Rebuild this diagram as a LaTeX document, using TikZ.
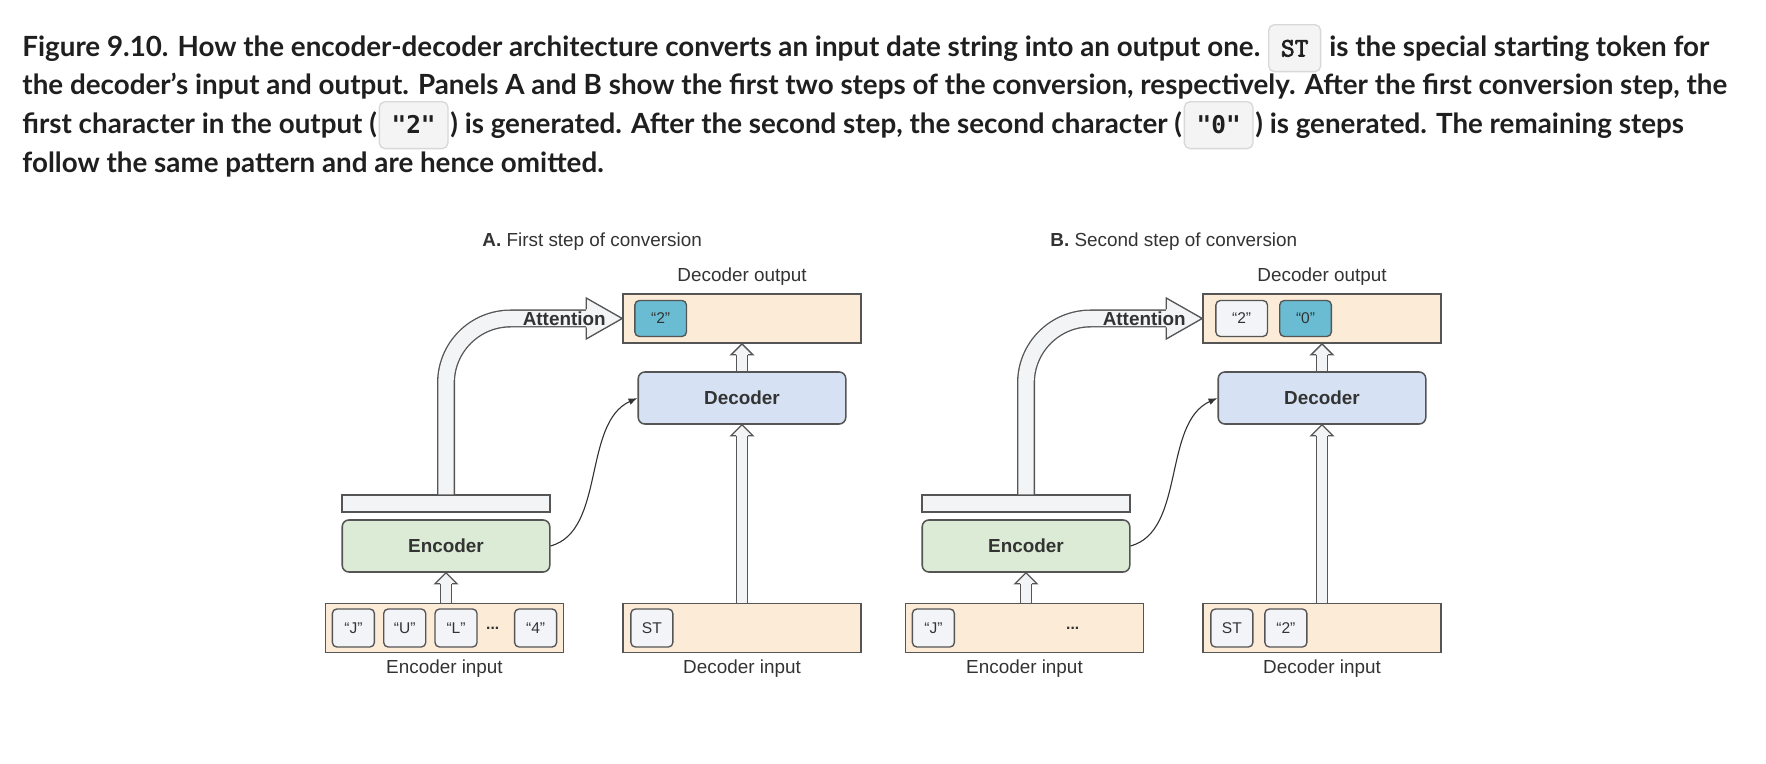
\documentclass[tikz,border=0pt]{standalone}
\usepackage{fontspec}
\setmainfont{Liberation Sans}
\newfontfamily\capfont{Lato}
\newfontfamily\chipmono{DejaVu Sans Mono}
\newfontfamily\stfont[FakeBold=2.5]{Latin Modern Mono}
\usetikzlibrary{positioning,calc,arrows.meta}

\definecolor{edge}{HTML}{555555}
\definecolor{ink}{HTML}{333333}
\definecolor{capink}{HTML}{1F1F1F}
\definecolor{beige}{HTML}{FBEBD7}
\definecolor{encfill}{HTML}{DCEBD5}
\definecolor{decfill}{HTML}{D6E2F3}
\definecolor{chipfill}{HTML}{F2F4F7}
\definecolor{hotfill}{HTML}{69BCD2}
\definecolor{arrfill}{HTML}{F3F4F6}
\definecolor{chipbg}{HTML}{F4F4F4}
\definecolor{chipline}{HTML}{D8D8D8}

\tikzset{
  box/.style={draw=edge, line width=0.7pt, fill=beige, minimum width=107.1pt, minimum height=22.1pt, inner sep=0pt},
  blk/.style={draw=edge, line width=0.7pt, rounded corners=3pt, minimum width=93.4pt, minimum height=23.4pt, inner sep=0pt, font=\fontsize{8.5}{10}\selectfont\bfseries, text=ink},
  enc/.style={blk, fill=encfill},
  dec/.style={blk, fill=decfill},
  bar/.style={draw=edge, line width=0.7pt, fill=arrfill, minimum width=93.6pt, minimum height=7.6pt, inner sep=0pt},
  chip/.style={draw=edge, line width=0.6pt, fill=chipfill, rounded corners=2pt, minimum width=18.9pt, minimum height=17.1pt, inner sep=0pt, font=\fontsize{7}{8}\selectfont, text=ink},
  wchip/.style={chip, minimum width=23.2pt, minimum height=16.2pt},
  hot/.style={wchip, fill=hotfill},
  lbl/.style={font=\fontsize{8.5}{10}\selectfont, text=ink, inner sep=0pt},
  ttl/.style={lbl, anchor=west},
  dots/.style={lbl, font=\fontsize{7}{8}\selectfont\bfseries},
  att/.style={lbl, font=\fontsize{8.5}{10}\selectfont\bfseries},
  link/.style={draw=ink, line width=0.5pt, -{Latex[length=4pt,width=3pt]}},
  edgeline/.style={draw=edge, line width=0.6pt},
  fatshaft/.style={draw=edge, line width=0.6pt, double=arrfill, double distance=4.2pt},
  attshaft/.style={draw=edge, line width=0.6pt, double=arrfill, double distance=6.9pt, rounded corners=29pt},
  captxt/.style={anchor=base west, inner sep=0pt, font=\capfont\bfseries\fontsize{12.5}{16}\selectfont, text=capink},
  capchip/.style={draw=chipline, fill=chipbg, line width=0.6pt, rounded corners=2.5pt, inner xsep=5.5pt, inner ysep=5pt, text height=9.3pt, text depth=1.8pt, font=\chipmono\bfseries\fontsize{11}{13}\selectfont, text=capink},
}

% hollow arrow pointing up: tail, tip
\newcommand\fatup[2]{%
  \draw[fatshaft] (#1) -- ($(#2)+(0,11)$);
  \fill[arrfill] (#2) -- ++(11,11) -- ++(-22,0) -- cycle;
  \draw[edgeline] ($(#2)+(6,11)$) -- ++(5,0) -- (#2) -- ++(-11,11) -- ++(5,0);
}
% attention arrow: from bar up and over to output box
\newcommand\attn[2]{%
  \draw[attshaft] (#1.north) |- ($(#2.west)+(-36,0)$);
  \fill[arrfill] (#2.west) -- ++(-36,-20.5) -- ++(0,41) -- cycle;
  \draw[edgeline] ($(#2.west)+(-36,-9)$) -- ++(0,-11.5) -- (#2.west) -- ++(-36,20.5) -- ++(0,-11.5);
}

\begin{document}
\begin{tikzpicture}[x=0.45pt,y=-0.45pt]
\path[use as bounding box, fill=white] (0,0) rectangle (1766,764);

% caption
\node[captxt] (c1a) at (22,56.5) {Figure 9.10. How the encoder-decoder architecture converts an input date string into an output one.};
\node[capchip, base right=3.4pt of c1a] (stc) {\stfont\fontsize{12}{13}\selectfont ST};
\node[captxt, base right=3.4pt of stc] (c1b) {is the special starting token for};
\node[captxt] (c2) at (22,94.5) {the decoder’s input and output. Panels A and B show the first two steps of the conversion, respectively. After the first conversion step, the};
\node[captxt] (c3a) at (22,133.5) {first character in the output (};
\node[capchip, base right=0.6pt of c3a] (twoc) {"2"};
\node[captxt, base right=0.6pt of twoc] (c3b) {) is generated. After the second step, the second character (};
\node[capchip, base right=0.6pt of c3b] (zeroc) {"0"};
\node[captxt, base right=0.6pt of zeroc] (c3c) {) is generated. The remaining steps};
\node[captxt] (c4) at (22,173) {follow the same pattern and are hence omitted.};

% panel A
\node[ttl] (ttlA) at (482,242) {\textbf{A.} First step of conversion};
\node[box] (inA) at (444.5,628) {};
\node[chip, anchor=west] (jA) at ($(inA.west)+(7,0)$) {“J”};
\node[chip, right=3.6pt of jA] (uA) {“U”};
\node[chip, right=3.6pt of uA] (lA) {“L”};
\node[chip, anchor=east] (fourA) at ($(inA.east)+(-7,0)$) {“4”};
\node[dots] (dotsA) at ($(inA.west)+(168,0)$) {...};
\node[lbl] (inlblA) at (444.5,669) {Encoder input};
\node[enc] (encA) at (446,546) {Encoder};
\node[bar] (barA) at (446,503.5) {};
\node[box] (dinA) at (742,628) {};
\node[chip, anchor=west] (stA) at ($(dinA.west)+(8,0)$) {ST};
\node[lbl] (dinlblA) at (742,669) {Decoder input};
\node[dec] (decA) at (742,398) {Decoder};
\node[box] (outA) at (742,318.5) {};
\node[hot, anchor=west] (o1A) at ($(outA.west)+(12,0)$) {“2”};
\node[lbl] (outlblA) at (742,277) {Decoder output};

\fatup{inA.north -| encA.south}{encA.south}
\fatup{dinA.north}{decA.south}
\fatup{decA.north}{outA.south}
\attn{barA}{outA}
\node[att] (attA) at ($(outA.west)+(-58,0)$) {Attention};
\draw[link] (encA.east) .. controls +(55,-15) and +(-55,25) .. (decA.west);

% panel B
\node[ttl] (ttlB) at (1050,242) {\textbf{B.} Second step of conversion};
\node[box] (inB) at (1024.5,628) {};
\node[chip, anchor=west] (jB) at ($(inB.west)+(7,0)$) {“J”};
\node[dots] (dotsB) at ($(inB.west)+(168,0)$) {...};
\node[lbl] (inlblB) at (1024.5,669) {Encoder input};
\node[enc] (encB) at (1026,546) {Encoder};
\node[bar] (barB) at (1026,503.5) {};
\node[box] (dinB) at (1322,628) {};
\node[chip, anchor=west] (stB) at ($(dinB.west)+(8,0)$) {ST};
\node[chip, right=4.8pt of stB] (d2B) {“2”};
\node[lbl] (dinlblB) at (1322,669) {Decoder input};
\node[dec] (decB) at (1322,398) {Decoder};
\node[box] (outB) at (1322,318.5) {};
\node[wchip, anchor=west] (o1B) at ($(outB.west)+(13,0)$) {“2”};
\node[hot, right=4.95pt of o1B] (o2B) {“0”};
\node[lbl] (outlblB) at (1322,277) {Decoder output};

\fatup{inB.north -| encB.south}{encB.south}
\fatup{dinB.north}{decB.south}
\fatup{decB.north}{outB.south}
\attn{barB}{outB}
\node[att] (attB) at ($(outB.west)+(-58,0)$) {Attention};
\draw[link] (encB.east) .. controls +(55,-15) and +(-55,25) .. (decB.west);
\end{tikzpicture}
\end{document}
